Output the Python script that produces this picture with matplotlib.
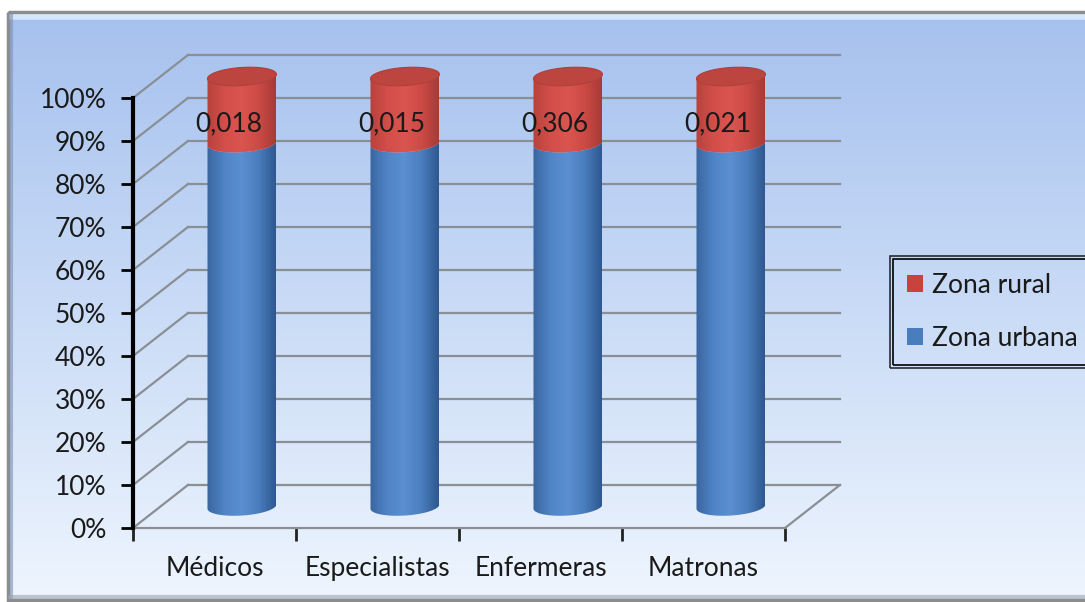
import numpy as np
import matplotlib
matplotlib.use('Agg')
import matplotlib.pyplot as plt
from matplotlib.colors import LinearSegmentedColormap
from matplotlib.patches import Polygon, Rectangle

plt.rcParams['font.family'] = ['Lato', 'DejaVu Sans']

categories = ['Médicos', 'Especialistas', 'Enfermeras', 'Matronas']
urban_share = [84.5, 84.5, 84.5, 84.5]   # % of each cylinder (blue)
rural_share = [15.5, 15.5, 15.5, 15.5]   # % of each cylinder (red)
rural_labels = ['0,018', '0,015', '0,306', '0,021']
series_names = ['Zona rural', 'Zona urbana']
y_ticks = list(range(0, 101, 10))

DEPTH_X = 0.337   # oblique depth, in category units
DEPTH_Y = 10.0    # oblique depth, in % units
HALF_W = 0.2115
ELL_B = 2.1
TILT = 0.5
FS = 19

blue_cmap = LinearSegmentedColormap.from_list(
    'blue', ['#3a66a0', '#4f84c6', '#5a8fd2', '#4a7dbd', '#2f5890'])
red_cmap = LinearSegmentedColormap.from_list(
    'red', ['#b8423d', '#d24e49', '#db5550', '#cc4a45', '#a83a36'])
text_color = '#1a1a1a'
grid_color = '#8a8f96'


def arc(xc, yc, lower=True, n=60):
    t = np.linspace(np.pi, 2 * np.pi, n) if lower else np.linspace(0, np.pi, n)
    xs = xc + HALF_W * np.cos(t)
    ys = yc + ELL_B * np.sin(t) + TILT * np.cos(t)
    return np.column_stack([xs, ys])


def shaded_segment(fig, ax, xc, y0, y1, cmap, z):
    lo = arc(xc, y0)
    hi = arc(xc, y1)[::-1]
    poly = Polygon(np.vstack([lo, hi]), closed=True, facecolor='none',
                   edgecolor='none', transform=ax.transData, clip_on=False)
    ax.add_patch(poly)
    grad = np.linspace(0, 1, 200).reshape(1, -1)
    im = ax.imshow(grad, cmap=cmap, aspect='auto', zorder=z,
                   extent=[xc - HALF_W, xc + HALF_W, y0 - ELL_B - 1, y1 + ELL_B + 1])
    im.set_clip_path(poly)
    im.set_clip_box(fig.bbox)


fig = plt.figure(figsize=(10.85, 6.02), dpi=100)

# background panel with gradient and bevelled frame
bg = fig.add_axes([0, 0, 1, 1], zorder=0)
bg.set_xlim(0, 1085)
bg.set_ylim(602, 0)
bg.axis('off')
vgrad = np.linspace(0, 1, 300).reshape(-1, 1)
bg_cmap = LinearSegmentedColormap.from_list('bg', ['#a6c1ee', '#c9dbf6', '#eef5fe'])
bg.imshow(vgrad, cmap=bg_cmap, aspect='auto', extent=[8, 1085, 600, 12])
bg.add_patch(Rectangle((8, 12), 1080, 588, fill=False, edgecolor='#8c8c8c', lw=2.5))
bg.plot([12, 1085], [17, 17], color='#e2efff', lw=4, alpha=0.8)
bg.plot([11, 11], [15, 598], color='#7d8fae', lw=3, alpha=0.6)
bg.plot([10, 1085], [597, 597], color='#9aa3b0', lw=3, alpha=0.6)

ax = fig.add_axes([133 / 1085, 1 - 528 / 602, 652 / 1085, 430 / 602], zorder=2)
ax.patch.set_visible(False)

# back wall gridlines and floor
for v in y_ticks:
    ax.plot([0, DEPTH_X], [v, v + DEPTH_Y], color=grid_color, lw=1.6,
            clip_on=False, zorder=1)
    ax.plot([DEPTH_X, len(categories) + DEPTH_X], [v + DEPTH_Y, v + DEPTH_Y],
            color=grid_color, lw=1.6, clip_on=False, zorder=1)
ax.plot([len(categories), len(categories) + DEPTH_X], [0, DEPTH_Y],
        color=grid_color, lw=1.6, clip_on=False, zorder=1)

# cylinders
for i, (u, r, lab) in enumerate(zip(urban_share, rural_share, rural_labels)):
    xc = i + 0.5 + DEPTH_X / 2
    base = DEPTH_Y / 2
    shaded_segment(fig, ax, xc, base, base + u, blue_cmap, 3)
    shaded_segment(fig, ax, xc, base + u, base + u + r, red_cmap, 3)
    top = np.vstack([arc(xc, base + u + r, lower=True),
                     arc(xc, base + u + r, lower=False)])
    ax.add_patch(Polygon(top, closed=True, facecolor='#bc4540',
                         edgecolor='#b03e39', lw=0.8, zorder=4, clip_on=False))
    ax.text(xc - 0.08, base + u + 4.5, lab, ha='center', va='center',
            fontsize=FS, color=text_color, zorder=5, clip_on=False)

ax.set_xlim(0, len(categories))
ax.set_ylim(0, 100)

for side in ['top', 'right']:
    ax.spines[side].set_visible(False)
ax.spines['left'].set_color('black')
ax.spines['left'].set_linewidth(3)
ax.spines['left'].set_zorder(6)
ax.spines['bottom'].set_color(grid_color)
ax.spines['bottom'].set_linewidth(1.6)

ax.set_yticks(y_ticks)
ax.set_yticklabels([f'{v}%' for v in y_ticks])
ax.tick_params(axis='y', direction='out', length=9, width=2, color='black',
               labelsize=FS, labelcolor=text_color, pad=10)

ax.set_xticks(range(len(categories) + 1))
ax.set_xticklabels([])
ax.set_xticks([i + 0.5 for i in range(len(categories))], minor=True)
ax.set_xticklabels(categories, minor=True)
ax.tick_params(axis='x', which='major', direction='out', length=9, width=2,
               color='#222222')
ax.tick_params(axis='x', which='minor', length=0, labelsize=FS,
               labelcolor=text_color, pad=20)

handles = [Rectangle((0, 0), 1, 1, facecolor='#c9433e'),
           Rectangle((0, 0), 1, 1, facecolor='#4a7dbd')]
leg = fig.legend(handles, series_names, loc='center left',
                 bbox_to_anchor=(890 / 1085, 1 - 312 / 602), fontsize=FS,
                 frameon=True, fancybox=False, handlelength=0.6, handleheight=0.6,
                 handletextpad=0.35, labelspacing=1.05, borderpad=0.65,
                 borderaxespad=0, labelcolor=text_color)
leg.get_frame().set_edgecolor('black')
leg.get_frame().set_linewidth(1.2)
leg.get_frame().set_facecolor('none')

# second inner line for the double legend border
fig.canvas.draw()
bb = leg.get_window_extent()
inner = Rectangle((bb.x0 + 3, bb.y0 + 3), bb.width - 6, bb.height - 6,
                  transform=None, fill=False, edgecolor='black', lw=1.2)
fig.add_artist(inner)

fig.savefig('out.png', dpi=100)
